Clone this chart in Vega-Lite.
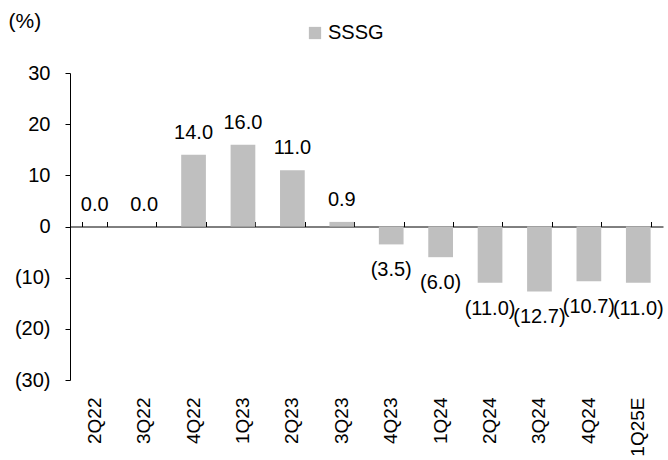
{
  "$schema": "https://vega.github.io/schema/vega-lite/v6.json",
  "width": 593,
  "height": 307,
  "autosize": "none",
  "padding": {"left": 70, "top": 73, "right": 5, "bottom": 80},
  "background": "white",
  "config": {
    "font": "Liberation Sans",
    "view": {"stroke": null},
    "axis": {"labelFont": "Liberation Sans", "labelFontSize": 20, "labelColor": "black", "grid": false, "domainColor": "black", "tickColor": "black", "titleFont": "Liberation Sans"},
    "legend": {"labelFont": "Liberation Sans", "labelFontSize": 20, "labelColor": "black"}
  },
  "data": {
    "values": [
      {"q": "2Q22", "v": 0.0, "label": "0.0"},
      {"q": "3Q22", "v": 0.0, "label": "0.0"},
      {"q": "4Q22", "v": 14.0, "label": "14.0"},
      {"q": "1Q23", "v": 16.0, "label": "16.0"},
      {"q": "2Q23", "v": 11.0, "label": "11.0"},
      {"q": "3Q23", "v": 0.9, "label": "0.9"},
      {"q": "4Q23", "v": -3.5, "label": "(3.5)"},
      {"q": "1Q24", "v": -6.0, "label": "(6.0)"},
      {"q": "2Q24", "v": -11.0, "label": "(11.0)"},
      {"q": "3Q24", "v": -12.7, "label": "(12.7)"},
      {"q": "4Q24", "v": -10.7, "label": "(10.7)"},
      {"q": "1Q25E", "v": -11.0, "label": "(11.0)"}
    ]
  },
  "resolve": {"axis": {"x": "independent"}},
  "layer": [
    {
      "mark": {"type": "bar", "color": "#bfbfbf"},
      "encoding": {
        "x": {
          "field": "q", "type": "nominal", "sort": null,
          "scale": {"paddingInner": 0.5, "paddingOuter": 0.25},
          "axis": {"title": null, "domain": false, "ticks": false, "labelAngle": -90, "labelAlign": "right", "labelBaseline": "middle", "labelPadding": 17, "labelFontSize": 19}
        },
        "y": {
          "field": "v", "type": "quantitative",
          "scale": {"domain": [-30, 30], "nice": false},
          "axis": {
            "values": [-30, -20, -10, 0, 10, 20, 30],
            "labelExpr": "datum.value < 0 ? '(' + abs(datum.value) + ')' : datum.value + '\u00a0'",
            "tickSize": 5, "labelPadding": 15,
            "title": "(%)", "titleAngle": 0, "titleAlign": "left", "titleBaseline": "middle",
            "titleX": -62, "titleY": -52, "titleFontSize": 21, "titleFontWeight": "normal", "titleColor": "black"
          }
        },
        "color": {
          "datum": "SSSG",
          "scale": {"range": ["#bfbfbf"]},
          "legend": {"title": null, "orient": "none", "legendX": 235, "legendY": -50, "symbolType": "square", "symbolSize": 150, "symbolStrokeWidth": 0, "symbolOpacity": 1, "labelOffset": 3}
        }
      }
    },
    {
      "transform": [{"filter": "datum.v >= 0"}],
      "mark": {"type": "text", "baseline": "alphabetic", "dy": -16, "fontSize": 20, "color": "black", "font": "Liberation Sans"},
      "encoding": {
        "x": {
          "field": "q", "type": "nominal", "sort": null,
          "axis": {"title": null, "labels": false, "domain": true, "ticks": true, "tickBand": "extent", "tickSize": 5, "offset": -153.5}
        },
        "y": {"field": "v", "type": "quantitative"},
        "text": {"field": "label"}
      }
    },
    {
      "transform": [{"filter": "datum.v < 0"}],
      "mark": {"type": "text", "baseline": "alphabetic", "dy": 32, "fontSize": 20, "color": "black", "font": "Liberation Sans"},
      "encoding": {
        "x": {"field": "q", "type": "nominal", "sort": null, "axis": null},
        "y": {"field": "v", "type": "quantitative"},
        "text": {"field": "label"}
      }
    }
  ]
}
